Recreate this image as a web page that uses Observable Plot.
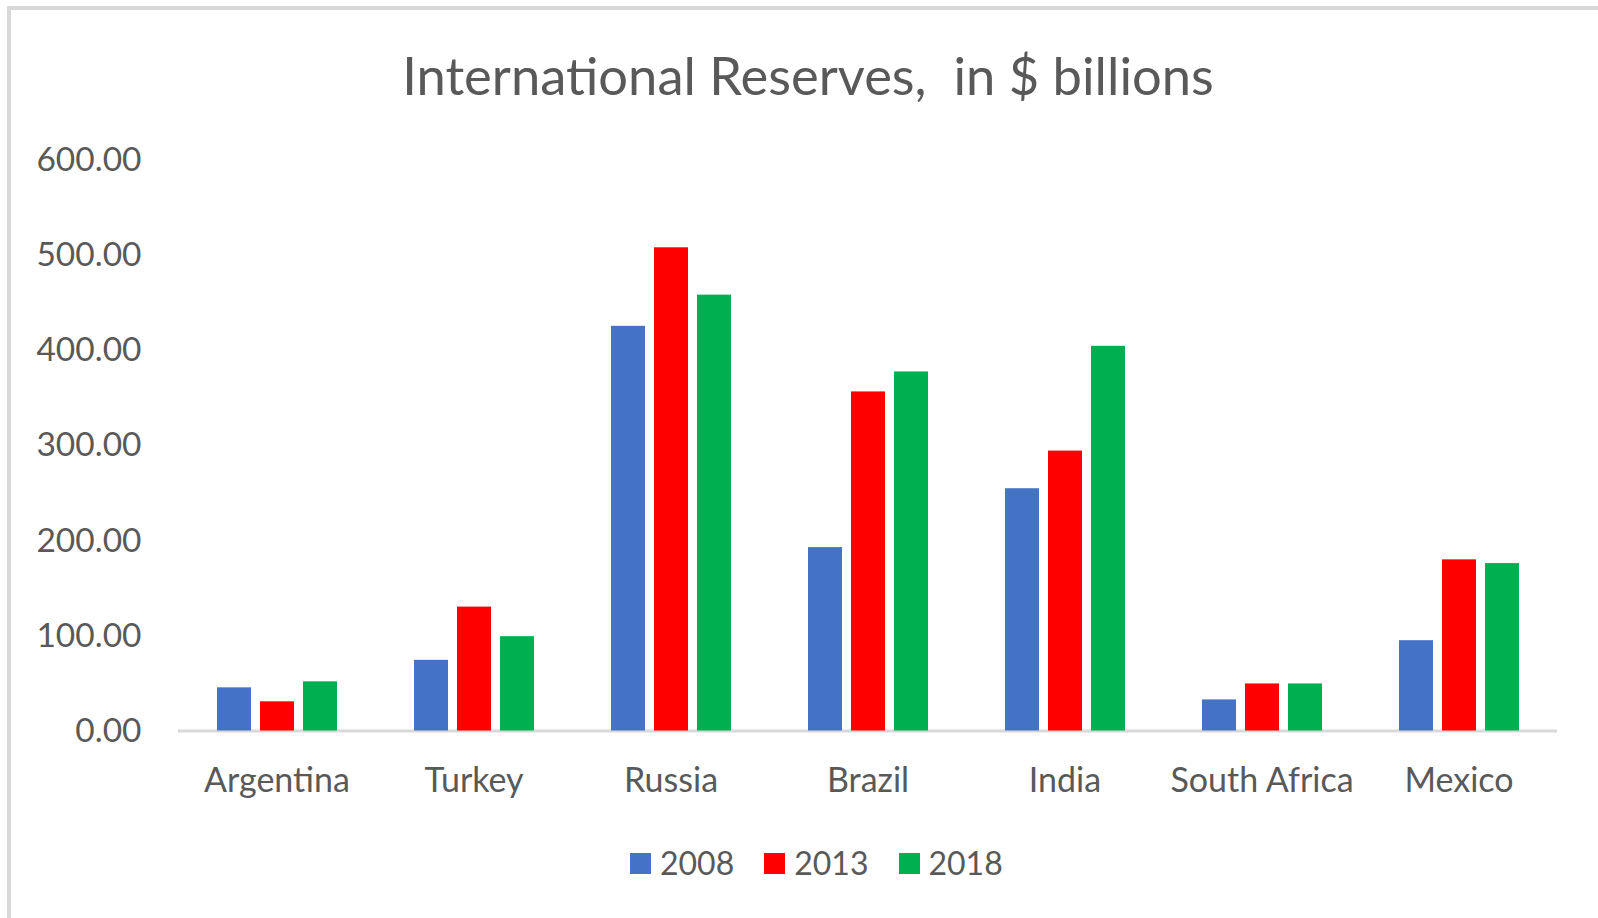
<!DOCTYPE html>
<html>
<head>
<meta charset="utf-8">
<script src="https://cdn.jsdelivr.net/npm/d3@7"></script>
<script src="https://cdn.jsdelivr.net/npm/@observablehq/plot@0.6"></script>
<style>
  html, body { margin: 0; padding: 0; background: #ffffff; }
  #wrap { position: relative; width: 1598px; height: 918px; overflow: hidden; font-family: Lato, sans-serif; color: #595959; }
  #frame { position: absolute; left: 7px; top: 6px; width: 1700px; height: 1000px; border-top: 4px solid #d9d9d9; border-left: 4px solid #d9d9d9; box-sizing: border-box; }
  #chart { position: absolute; left: 0; top: 0; }
  #title { position: absolute; left: 9px; width: 1598px; text-align: center; font-size: 52.5px; line-height: 1; top: 49px; white-space: pre; }
  #legend { position: absolute; left: 630px; top: 843px; display: flex; align-items: center; font-size: 32px; line-height: 40px; }
  #legend .sw { width: 21px; height: 21px; margin-right: 9px; }
  #legend .lab { margin-right: 30px; }
</style>
</head>
<body>
<div id="wrap">
  <div id="frame"></div>
  <div id="chart"></div>
  <div id="title"></div>
  <div id="legend"></div>
</div>
<script>
const titleText = "International Reserves,  in $ billions";
const countries = ["Argentina", "Turkey", "Russia", "Brazil", "India", "South Africa", "Mexico"];
const years = ["2008", "2013", "2018"];
const v2008 = [45.4, 74.3, 425.6, 192.9, 254.8, 32.7, 95.0];
const v2013 = [30.7, 130.3, 508.2, 356.6, 294.4, 49.5, 180.0];
const v2018 = [51.7, 99.2, 458.4, 377.6, 404.6, 49.5, 176.1];
const colors = ["#4472C4", "#FF0000", "#00B050"];
const yTicks = [0, 100, 200, 300, 400, 500, 600];

const series = [v2008, v2013, v2018];
const data = countries.flatMap((c, i) => years.map((y, j) => ({country: c, year: y, value: series[j][i]})));

const chart = Plot.plot({
  width: 1598,
  height: 918,
  marginTop: 160,
  marginBottom: 187.5,
  marginLeft: 175,
  marginRight: 38,
  style: {fontFamily: "Lato, sans-serif", fontSize: "32px", color: "#595959", background: "transparent"},
  fx: {domain: countries, padding: 0},
  x: {domain: years, axis: null, paddingInner: 0.216, paddingOuter: 0.858},
  y: {domain: [0, 600]},
  color: {domain: years, range: colors},
  marks: [
    Plot.axisY(yTicks, {tickFormat: d3.format(".2f"), tickSize: 0, tickPadding: 37, fontSize: 33.5, label: null}),
    Plot.axisFx({anchor: "bottom", tickSize: 0, tickPadding: 37, fontSize: 34, label: null}),
    Plot.ruleY([0], {stroke: "#d9d9d9", strokeWidth: 3}),
    Plot.barY(data, {fx: "country", x: "year", y: "value", fill: "year"})
  ]
});
document.getElementById("chart").appendChild(chart);
document.getElementById("title").textContent = titleText;

const legend = document.getElementById("legend");
years.forEach((y, j) => {
  const sw = document.createElement("div");
  sw.className = "sw";
  sw.style.background = colors[j];
  const lab = document.createElement("div");
  lab.className = "lab";
  lab.textContent = y;
  if (j === years.length - 1) lab.style.marginRight = "0";
  legend.appendChild(sw);
  legend.appendChild(lab);
});
</script>
</body>
</html>
